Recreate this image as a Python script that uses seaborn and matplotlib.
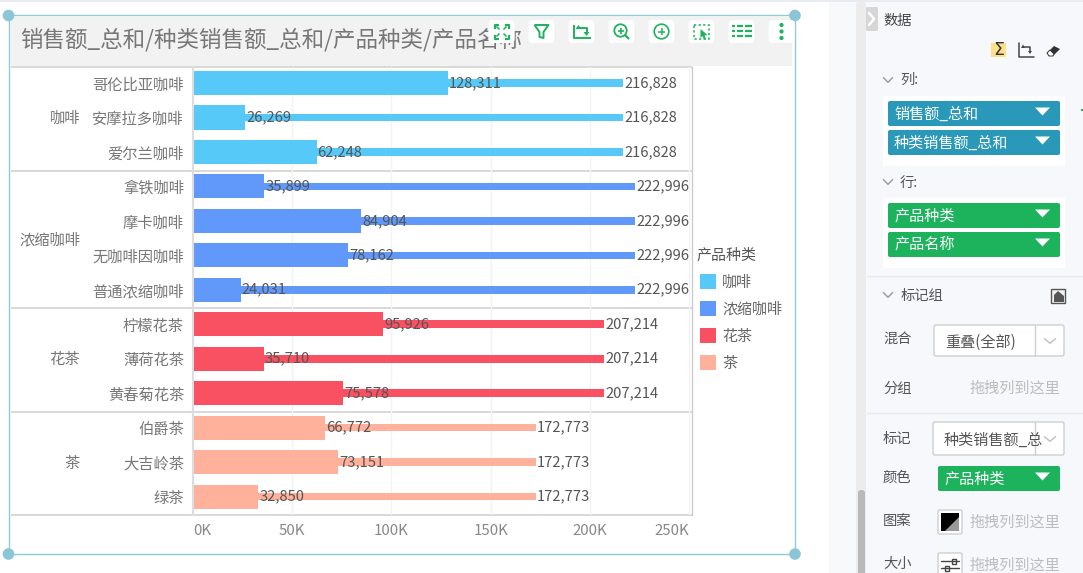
import matplotlib
matplotlib.use("Agg")
import matplotlib.pyplot as plt
from matplotlib.patches import Rectangle, FancyBboxPatch, Circle, Polygon
import pandas as pd
import seaborn as sns

# ---------- data ----------
categories = ["咖啡"] * 3 + ["浓缩咖啡"] * 4 + ["花茶"] * 3 + ["茶"] * 3
products = ["哥伦比亚咖啡", "安摩拉多咖啡", "爱尔兰咖啡",
            "拿铁咖啡", "摩卡咖啡", "无咖啡因咖啡", "普通浓缩咖啡",
            "柠檬花茶", "薄荷花茶", "黄春菊花茶",
            "伯爵茶", "大吉岭茶", "绿茶"]
sales = [128311, 26269, 62248, 35899, 84904, 78162, 24031,
         95926, 35710, 75578, 66772, 73151, 32850]
category_sales = [216828] * 3 + [222996] * 4 + [207214] * 3 + [172773] * 3
hue_order = ["咖啡", "浓缩咖啡", "花茶", "茶"]
hue_colors = ["#57C9F9", "#6199FB", "#F95062", "#FFB19C"]
x_ticks = [0, 50000, 100000, 150000, 200000, 250000]
x_tick_labels = ["0K", "50K", "100K", "150K", "200K", "250K"]
title_text = "销售额_总和/种类销售额_总和/产品种类/产品名称"

# ---------- theme ----------
sns.set_theme(style="white")
FONT = ["Noto Sans CJK SC", "DejaVu Sans"]
plt.rcParams["font.family"] = FONT
W, H = 1083, 573
fig = plt.figure(figsize=(W / 100, H / 100), dpi=100, facecolor="white")


def px_axes(z):
    a = fig.add_axes([0, 0, 1, 1], zorder=z)
    a.set_xlim(0, W)
    a.set_ylim(H, 0)
    a.axis("off")
    a.patch.set_alpha(0)
    return a


bg = px_axes(0)
top = px_axes(3)

# ---------- chart frame (under chart) ----------
FRAME = "#8FCAD8"
bg.add_patch(Rectangle((11, 17), 781, 49, fc="#F2F2F2", ec="none"))
bg.text(20.5, 40, title_text, fontsize=16.2, color="#777777", va="center", ha="left")

# ---------- chart ----------
L, R, T, B = 193, 692, 67, 515
ax = fig.add_axes([L / W, 1 - B / H, (R - L) / W, (B - T) / H], zorder=1)
ax.patch.set_alpha(0)
df = pd.DataFrame({"cat": categories, "name": products,
                   "sales": sales, "total": category_sales})
palette = dict(zip(hue_order, hue_colors))
ax.set_axisbelow(True)
ax.xaxis.grid(True, color="#F3F3F3", lw=1)
sns.barplot(data=df, y="name", x="sales", hue="cat", hue_order=hue_order,
            palette=palette, dodge=False, width=0.70, saturation=1,
            linewidth=0, ax=ax, legend=True)
sns.barplot(data=df, y="name", x="total", hue="cat", hue_order=hue_order,
            palette=palette, dodge=False, width=0.22, saturation=1,
            linewidth=0, ax=ax, legend=False)
for c in ax.containers:
    ax.bar_label(c, fmt="{:,.0f}", padding=0.8, fontsize=10.6, color="#555555", zorder=6)

ax.set_xlim(0, 251500)
ax.set_ylim(12.535, -0.465)
ax.set_xlabel("")
ax.set_ylabel("")
ax.set_xticks(x_ticks)
ax.set_xticklabels(x_tick_labels)
for lab, v in zip(ax.get_xticklabels(), x_ticks):
    lab.set_ha("left" if v == 0 else ("right" if v == x_ticks[-1] else "center"))
ax.tick_params(axis="x", length=0, pad=6.5, labelsize=10.8, labelcolor="#888888")
ax.tick_params(axis="y", length=0, pad=6.5, labelsize=11, labelcolor="#777777")
for s in ["top", "bottom"]:
    ax.spines[s].set_visible(False)
ax.spines["left"].set_color("#DDDDDD")
ax.spines["left"].set_linewidth(1.5)
ax.spines["right"].set_color("#CCCCCC")
ax.spines["right"].set_linewidth(1)

sns.move_legend(ax, loc="upper left", bbox_to_anchor=(1.0155, 0.596), title="产品种类",
                frameon=False, fontsize=10.8, title_fontsize=10.8, labelcolor="#666666",
                alignment="left", borderaxespad=0, borderpad=0, handlelength=1.08,
                handleheight=1.13, handletextpad=0.42, labelspacing=0.78)
leg = ax.get_legend()
leg.get_title().set_color("#555555")
leg.get_title().set_position((-3, 0))

# group labels and separators
cat_centers = {"咖啡": 118, "浓缩咖啡": 239.5, "花茶": 359.5, "茶": 463.5}
for name, y in cat_centers.items():
    bg.text(80, y, name, ha="right", va="center", fontsize=11, color="#777777")
for y in [67, 171, 308, 411.5, 515]:
    bg.plot([11, 692], [y, y], color="#D6D6D6", lw=1.3, solid_capstyle="butt")

# frame
GREEN = "#1DB25C"
bg.add_patch(Rectangle((8.5, 15), 786.5, 539, fc="none", ec=FRAME, lw=1))
for cx, cy in [(8.5, 15.5), (795, 15.5), (8.5, 554), (795, 554)]:
    top.add_patch(Circle((cx, cy), 5.8, fc="#8CC5D6", ec="none"))

# ---------- toolbar ----------
centers = [501.5, 541.5, 581.5, 621.5, 661.5, 701.5, 741.5, 781.5]
for cx in centers:
    top.add_patch(FancyBboxPatch((cx - 11.5, 22), 23, 19, boxstyle="round,pad=0,rounding_size=3",
                                 fc="#E9E9E9", ec="#EDEDED", lw=3, alpha=0.5))
    top.add_patch(FancyBboxPatch((cx - 13, 20), 26, 23, boxstyle="round,pad=0,rounding_size=4",
                                 fc="white", ec="none"))


def gl(xs, ys, lw=1.6, **kw):
    top.plot(xs, ys, color=GREEN, lw=lw, solid_capstyle="butt", **kw)


# expand
c = centers[0]; yc = 31.5
for sx in (-1, 1):
    for sy in (-1, 1):
        gl([c + sx * 7, c + sx * 7, c + sx * 3], [yc + sy * 3, yc + sy * 7, yc + sy * 7])
        gl([c + sx * 2, c + sx * 5], [yc + sy * 2, yc + sy * 5], lw=1.1)
# filter
c = centers[1]
gl([c - 7, c + 7, c + 2, c + 2, c - 2, c - 2, c - 7], [25, 25, 32, 38, 37, 32, 25], lw=1.4)
# swap
c = centers[2]
gl([c - 8, c - 8, c + 9], [25, 38, 38], lw=1.4)
gl([c - 3, c + 5, c + 5], [28, 28, 33], lw=1.4)
top.add_patch(Polygon([[c - 6, 29], [c - 3, 25], [c, 29]], fc=GREEN, ec="none"))
top.add_patch(Polygon([[c + 2, 32], [c + 8, 32], [c + 5, 36]], fc=GREEN, ec="none"))
# zoom
c = centers[3]
top.add_patch(Circle((c - 1, 30.5), 6.2, fc="none", ec=GREEN, lw=1.3))
gl([c - 4, c + 2], [30.5, 30.5], lw=1.2); gl([c - 1, c - 1], [27.5, 33.5], lw=1.2)
gl([c + 3.5, c + 7.5], [35, 39], lw=1.6)
# plus
c = centers[4]
top.add_patch(Circle((c, 31.5), 7.3, fc="none", ec=GREEN, lw=1.2))
gl([c - 3.5, c + 3.5], [31.5, 31.5], lw=1.1); gl([c, c], [28, 35], lw=1.1)
# select
c = centers[5]
top.add_patch(Rectangle((c - 8, 25), 15, 14, fc="none", ec=GREEN, lw=1.1, ls=(0, (1.5, 1.5))))
top.add_patch(Polygon([[c - 1, 29], [c + 6, 35], [c + 3, 35.5], [c + 4.5, 39], [c + 2.5, 39.5], [c + 1, 36], [c - 1, 38]],
                      fc=GREEN, ec="none"))
# list
c = centers[6]
for y in (26, 31, 36):
    gl([c - 10, c - 7], [y, y], lw=1.6)
    gl([c - 5, c + 1], [y, y], lw=1.6)
    gl([c + 3, c + 10], [y, y], lw=1.6)
# more
c = centers[7]
for y in (25, 31.5, 38):
    top.add_patch(Circle((c, y), 2.1, fc=GREEN, ec="none"))

# ---------- side panel ----------
bg.add_patch(Rectangle((829, 0), 27, H, fc="#F8F9FB", ec="none"))
bg.add_patch(Rectangle((866, 0), W - 866, H, fc="#F6F8FB", ec="none"))
bg.add_patch(Rectangle((0, 0), W, 1.5, fc="#E8EBF1", ec="none"))
bg.add_patch(FancyBboxPatch((856, 1), 10, H + 10, boxstyle="round,pad=0,rounding_size=4", fc="#ECECEC", ec="none"))
bg.add_patch(FancyBboxPatch((858, 490), 7, H, boxstyle="round,pad=0,rounding_size=3", fc="#B9B9B9", ec="none"))
bg.add_patch(FancyBboxPatch((866, 7), 12, 24, boxstyle="round,pad=0,rounding_size=1.5", fc="#D6D6D6", ec="none"))
bg.plot([869, 874, 869], [13, 19, 25], color="white", lw=1.8)
bg.add_patch(Rectangle((1081, 109), 2, 2, fc=GREEN, ec="none"))

DARK = "#555555"
FS = 10.3


def pt(x, y, s, color=DARK, fs=FS, **kw):
    return bg.text(x, y + 1, s, fontsize=fs, color=color, va="center", ha="left", **kw)


def chev(x, y, color="#9A9FA8", r=4.5):
    bg.plot([x - r, x, x + r], [y - 2.3, y + 2.3, y - 2.3], color=color, lw=1.1)


def pill(x0, x1, y0, y1, s, color):
    bg.add_patch(FancyBboxPatch((x0, y0), x1 - x0, y1 - y0, boxstyle="round,pad=0,rounding_size=2",
                                fc=color, ec="none"))
    pt(x0 + 6, (y0 + y1) / 2, s, color="white", fs=10.9)
    bg.add_patch(Polygon([[x1 - 25, (y0 + y1) / 2 - 6], [x1 - 10, (y0 + y1) / 2 - 6], [x1 - 17.5, (y0 + y1) / 2 + 2]],
                         fc="white", ec="none"))


def combo(x0, x1, y0, y1, s, div):
    bg.add_patch(FancyBboxPatch((x0, y0), x1 - x0, y1 - y0, boxstyle="round,pad=0,rounding_size=2",
                                fc="white", ec="#CFCFCF", lw=1))
    bg.plot([div, div], [y0, y1], color="#CFCFCF", lw=1)
    pt(x0 + 11, (y0 + y1) / 2 + 0.5, s, color="#555555", fs=10.9)
    chev(div + 15, (y0 + y1) / 2 + 0.5, color="#C4C4C4", r=5.5)


pt(883, 20, "数据", color="#444444", fs=10.3, fontweight="medium")
# tool icons
bg.add_patch(Rectangle((991, 43), 15, 14, fc="#FFE08A", ec="none"))
bg.text(998.5, 50, "Σ", fontsize=12.5, color="#333333", ha="center", va="center", family="DejaVu Sans")
bg.plot([1019, 1019, 1034], [43, 57, 57], color="#444444", lw=1.1)
bg.plot([1023, 1030, 1030], [47, 47, 51], color="#444444", lw=1.1)
bg.add_patch(Polygon([[1021, 48], [1023, 44.5], [1025, 48]], fc="#444444", ec="none"))
bg.add_patch(Polygon([[1028, 51], [1032, 51], [1030, 54]], fc="#444444", ec="none"))
bg.add_patch(Polygon([[1047, 53], [1054, 46], [1060, 49], [1053, 56], [1049, 56]], fc="#333333", ec="none"))
bg.add_patch(Polygon([[1047, 53], [1050, 50], [1054, 54], [1053, 56], [1049, 56]], fc="white", ec="#333333", lw=0.7))

chev(888, 80); pt(900, 79, "列:")
bg.add_patch(Rectangle((883, 96), 182, 70, fc="white", ec="none"))
pill(888, 1060, 101, 126, "销售额_总和", "#2A98B8")
pill(888, 1060, 130, 155, "种类销售额_总和", "#2A98B8")
chev(888, 182); pt(900, 182, "行:")
bg.add_patch(Rectangle((883, 198), 182, 70, fc="white", ec="none"))
pill(888, 1060, 203, 228, "产品种类", GREEN)
pill(888, 1060, 232, 257, "产品名称", GREEN)
bg.plot([867, W], [276, 276], color="#E6E9EE", lw=1)

chev(888, 295); pt(901, 295, "标记组")
bg.add_patch(Rectangle((1051, 289), 14, 14, fc="#F2F2F2", ec="#555555", lw=1))
bg.add_patch(Polygon([[1054, 302], [1054, 295], [1058, 291], [1064, 296], [1064, 302]], fc="#555555", ec="none"))

pt(883, 338, "混合")
combo(934, 1064, 325, 356, "重叠(全部)", 1035)
pt(883, 388, "分组")
LIGHT = "#BDBDBD"
pt(970, 387, "拖拽列到这里", color=LIGHT, fs=10.9)
bg.plot([867, W], [413, 413], color="#E6E9EE", lw=1)

pt(883, 438, "标记")
combo(933, 1064, 422, 455, "种类销售额_总", 1035)
pt(883, 477, "颜色")
pill(938, 1060, 466, 491, "产品种类", GREEN)
pt(883, 520, "图案")
bg.add_patch(FancyBboxPatch((938, 510), 24, 24, boxstyle="round,pad=0,rounding_size=1.5", fc="white", ec="#CFCFCF", lw=1))
bg.add_patch(Rectangle((941, 513), 18, 18, fc="black", ec="none"))
bg.add_patch(Polygon([[959, 517], [959, 531], [945, 531]], fc="#999999", ec="none"))
pt(970, 521, "拖拽列到这里", color=LIGHT, fs=10.9)
pt(883, 563, "大小")
bg.add_patch(FancyBboxPatch((938, 553), 24, 30, boxstyle="round,pad=0,rounding_size=1.5", fc="white", ec="#CFCFCF", lw=1))
for y, bx in ((561, 954), (568, 947)):
    bg.plot([941, 959], [y, y], color="#444444", lw=1)
    bg.add_patch(Rectangle((bx - 2, y - 2.5), 4, 5, fc="white", ec="#444444", lw=1))
pt(970, 564, "拖拽列到这里", color=LIGHT, fs=10.9)

fig.savefig("out.png", dpi=100, facecolor="white")
